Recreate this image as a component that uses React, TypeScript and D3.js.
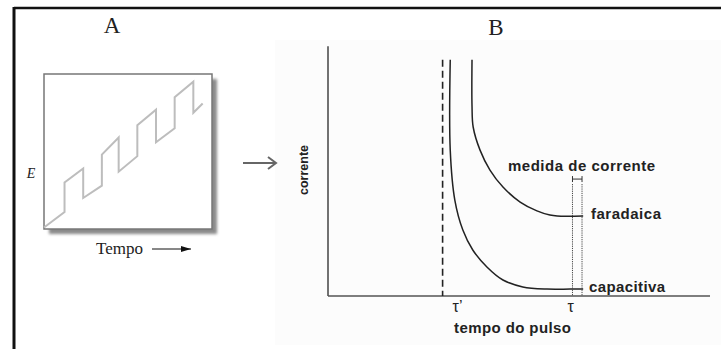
import React from "react";
import * as d3 from "d3";

// Panel A: pulse waveform on a staircase ramp (time units, potential units)
const waveT = [0, 1.1, 1.1, 2.1, 2.1, 3.1, 3.1, 4.0, 4.0, 5.0, 5.0, 6.0, 6.0, 7.0, 7.0, 8.0, 8.0, 8.5];
const waveE = [0.1, 1.1, 3.0, 3.9, 2.0, 2.8, 4.8, 5.9, 3.7, 4.7, 6.7, 7.7, 5.6, 6.5, 8.5, 9.5, 7.5, 8.1];

// Panel B: current decay after the pulse is applied
const capT = [32, 32, 33.2, 35.3, 37.9, 41.6, 45.8, 51, 57.3, 63.4, 66.8];
const capI = [96, 59.3, 39, 26.8, 18.7, 11.8, 6.5, 3.7, 2.8, 2.8, 2.8];
const farT = [37.7, 37.7, 38, 39.8, 42.4, 45.8, 50.3, 54.7, 58.1, 60, 66.8];
const farI = [96, 77.2, 68.7, 59.3, 51.2, 44.3, 38.2, 34.6, 32.9, 32.5, 32.5];

const tauPrime = 30;
const tau = 64;
const sampleWindow = [64, 66.5];
const windowTop = 45.5;
const dashTop = 96;

const SERIF = "'Liberation Serif', 'Times New Roman', serif";
const SANS = "'Liberation Sans', Arial, sans-serif";

export default function App() {
  // Panel A scales
  const ax = d3.scaleLinear().domain([0, 9]).range([44, 212]);
  const ay = d3.scaleLinear().domain([0, 10]).range([229, 74]);
  const wave = d3
    .line<number>()
    .x((_, i) => ax(waveT[i]))
    .y((_, i) => ay(waveE[i]));

  // Panel B scales
  const bx = d3.scaleLinear().domain([0, 100]).range([328, 710]);
  const by = d3.scaleLinear().domain([0, 100]).range([296, 50]);
  const curve = (ts: number[], is: number[]) =>
    d3
      .line<number>()
      .x((_, i) => bx(ts[i]))
      .y((_, i) => by(is[i]))
      .curve(d3.curveCatmullRom.alpha(0.5))(ts)!;

  const wy = by(windowTop);
  const markY = wy - 5;

  return (
    <svg
      width={721}
      height={349}
      viewBox="0 0 721 349"
      style={{ position: "absolute", left: 0, top: 0, background: "#fff" }}
    >
      <defs>
        <filter id="shadowBlur" x="-10%" y="-10%" width="120%" height="120%">
          <feGaussianBlur stdDeviation="1.6" />
        </filter>
        <marker id="tri" viewBox="0 0 10 6" refX="10" refY="3" markerWidth="11" markerHeight="6" markerUnits="userSpaceOnUse" orient="auto">
          <path d="M0,0 L10,3 L0,6 Z" fill="#111" />
        </marker>
      </defs>

      {/* frame */}
      <rect x={0} y={0} width={721} height={349} fill="#fff" />
      <rect x={275} y={40} width={446} height={305} fill="#fcfcfc" />
      <line x1={14} y1={8} x2={721} y2={8} stroke="#111" strokeWidth={2.5} />
      <line x1={14} y1={7} x2={14} y2={349} stroke="#111" strokeWidth={3} />

      {/* Panel A */}
      <text x={112} y={33} textAnchor="middle" fontFamily={SERIF} fontSize={23} fill="#222">A</text>
      <rect x={ax(0) + 5} y={ay(10) + 5} width={ax(9) - ax(0)} height={ay(0) - ay(10)} fill="#8a8a8a" filter="url(#shadowBlur)" />
      <rect x={ax(0)} y={ay(10)} width={ax(9) - ax(0)} height={ay(0) - ay(10)} fill="#fff" stroke="#777" strokeWidth={1.5} />
      <path d={wave(waveT)!} fill="none" stroke="#bdbdbd" strokeWidth={2} strokeLinejoin="miter" />
      <text x={31} y={178} textAnchor="middle" fontFamily={SERIF} fontStyle="italic" fontSize={14} fill="#222">E</text>
      <text x={96} y={254} fontFamily={SERIF} fontSize={17} fill="#222">Tempo</text>
      <line x1={152} y1={249} x2={191} y2={249} stroke="#111" strokeWidth={1} markerEnd="url(#tri)" />

      {/* arrow between panels */}
      <g stroke="#666" strokeWidth={2} fill="none">
        <line x1={243} y1={163} x2={276} y2={163} />
        <polyline points="268,157 276,163 268,169" />
      </g>

      {/* Panel B */}
      <text x={496} y={35} textAnchor="middle" fontFamily={SERIF} fontSize={23} fill="#222">B</text>
      <line x1={bx(0)} y1={by(101.5)} x2={bx(0)} y2={by(0)} stroke="#444" strokeWidth={1.5} />
      <line x1={bx(0)} y1={by(0)} x2={bx(100)} y2={by(0)} stroke="#555" strokeWidth={1.5} />
      <line x1={bx(tauPrime)} y1={by(dashTop)} x2={bx(tauPrime)} y2={by(0)} stroke="#222" strokeWidth={1.6} strokeDasharray="7,4" />
      <path d={curve(capT, capI)} fill="none" stroke="#222" strokeWidth={1.5} />
      <path d={curve(farT, farI)} fill="none" stroke="#222" strokeWidth={1.5} />

      {/* current sampling window */}
      {sampleWindow.map((t) => (
        <line key={t} x1={bx(t)} y1={wy} x2={bx(t)} y2={by(0)} stroke="#444" strokeWidth={1} strokeDasharray="1.2,1" />
      ))}
      <g stroke="#333" strokeWidth={1}>
        <line x1={bx(sampleWindow[0])} y1={markY} x2={bx(sampleWindow[1])} y2={markY} />
        <line x1={bx(sampleWindow[0])} y1={markY - 3} x2={bx(sampleWindow[0])} y2={markY + 3} />
        <line x1={bx(sampleWindow[1])} y1={markY - 3} x2={bx(sampleWindow[1])} y2={markY + 3} />
      </g>

      <g fontFamily={SANS} fontWeight="bold" fill="#222">
        <text x={bx(0) - 24} y={170} textAnchor="middle" fontSize={12.5} transform={`rotate(-90, ${bx(0) - 24}, 170)`} dy={4}>corrente</text>
        <text x={508} y={171} fontSize={15} textLength={147} lengthAdjust="spacing">medida de corrente</text>
        <text x={591} y={219} fontSize={15} textLength={70} lengthAdjust="spacing">faradaica</text>
        <text x={589} y={292} fontSize={15} textLength={76} lengthAdjust="spacing">capacitiva</text>
        <text x={454} y={333} fontSize={15} textLength={117} lengthAdjust="spacing">tempo do pulso</text>
      </g>
      <g fontFamily={SANS} fill="#222" fontSize={16}>
        <text x={bx(tauPrime) + 10} y={312}>τ’</text>
        <text x={bx(tau) - 5} y={312}>τ</text>
      </g>
    </svg>
  );
}
